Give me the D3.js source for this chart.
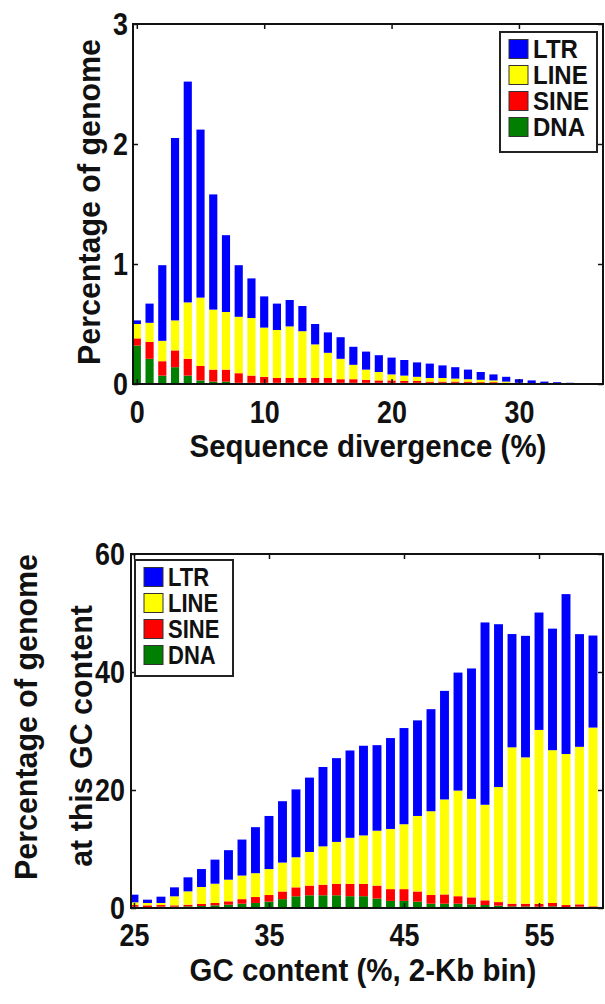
<!DOCTYPE html>
<html>
<head>
<meta charset="utf-8">
<script src="https://cdn.jsdelivr.net/npm/d3@7.9.0/dist/d3.min.js"></script>
<style>
  html, body { margin: 0; padding: 0; background: #fff; }
  svg { display: block; }
  text { font-family: "Liberation Sans", Arial, sans-serif; font-weight: bold; fill: #111; }
</style>
</head>
<body>
<svg id="chart" width="605" height="1004"></svg>
<script>
// repeat families, stacked bottom -> top: DNA, SINE, LINE, LTR
const families = ['LTR', 'LINE', 'SINE', 'DNA'];
const familyColors = ['#0000ff', '#ffff00', '#ff0000', '#007f00'];

// panel 1: sequence divergence (%)
const divergence = [0, 1, 2, 3, 4, 5, 6, 7, 8, 9, 10, 11, 12, 13, 14, 15, 16, 17, 18, 19, 20, 21, 22, 23, 24, 25, 26, 27, 28, 29, 30, 31, 32, 33, 34, 35];
const divLTR  = [0.03, 0.16, 0.63, 1.52, 1.84, 1.40, 0.96, 0.64, 0.43, 0.33, 0.26, 0.22, 0.22, 0.21, 0.17, 0.17, 0.18, 0.15, 0.15, 0.14, 0.14, 0.13, 0.12, 0.12, 0.105, 0.095, 0.08, 0.065, 0.05, 0.04, 0.03, 0.025, 0.02, 0.015, 0.01, 0.005];
const divLINE = [0.12, 0.16, 0.17, 0.25, 0.47, 0.57, 0.50, 0.48, 0.47, 0.48, 0.41, 0.40, 0.43, 0.39, 0.28, 0.21, 0.17, 0.12, 0.085, 0.07, 0.05, 0.045, 0.035, 0.03, 0.03, 0.025, 0.02, 0.02, 0.015, 0.01, 0.005, 0.005, 0, 0, 0, 0];
const divSINE = [0.06, 0.14, 0.12, 0.14, 0.14, 0.12, 0.10, 0.10, 0.08, 0.06, 0.05, 0.04, 0.04, 0.04, 0.04, 0.04, 0.03, 0.03, 0.025, 0.02, 0.02, 0.015, 0.015, 0.01, 0.01, 0.01, 0.01, 0.01, 0.01, 0.005, 0.005, 0, 0, 0, 0, 0];
const divDNA  = [0.32, 0.21, 0.07, 0.14, 0.07, 0.03, 0.02, 0.02, 0.01, 0.01, 0.01, 0.01, 0.01, 0.01, 0.01, 0.01, 0.01, 0.01, 0.01, 0.01, 0.01, 0.01, 0.01, 0.01, 0.01, 0.01, 0.01, 0.005, 0.005, 0.005, 0, 0, 0, 0, 0, 0];
const divTicks = [0, 10, 20, 30];
const divYTicks = [0, 1, 2, 3];

// panel 2: GC content (%, 2-Kb bin)
const gcBins = [25, 26, 27, 28, 29, 30, 31, 32, 33, 34, 35, 36, 37, 38, 39, 40, 41, 42, 43, 44, 45, 46, 47, 48, 49, 50, 51, 52, 53, 54, 55, 56, 57, 58, 59];
const gcLTR  = [1.3, 0.56, 1.07, 1.52, 2.38, 3.04, 4.08, 5.0, 6.1, 7.8, 9.0, 10.4, 11.5, 12.6, 13.45, 14.2, 14.8, 15.2, 14.5, 15.4, 16.3, 16.2, 17.3, 18.4, 20.0, 22.1, 30.9, 27.6, 19.2, 20.6, 19.9, 20.6, 27.1, 19.1, 15.6];
const gcLINE = [0.46, 0.40, 0.35, 1.53, 2.26, 2.88, 3.27, 3.67, 4.0, 4.04, 4.4, 4.9, 5.1, 5.7, 6.5, 7.1, 7.8, 8.2, 9.3, 10.2, 11.0, 12.8, 14.2, 16.1, 17.9, 16.7, 16.2, 19.5, 26.5, 24.8, 29.5, 25.9, 25.6, 26.7, 30.3];
const gcSINE = [0.27, 0.28, 0.27, 0.22, 0.28, 0.34, 0.40, 0.57, 0.77, 1.01, 1.13, 1.3, 1.52, 1.65, 1.8, 1.95, 2.1, 2.1, 2.2, 2.0, 2.0, 1.73, 1.47, 1.57, 1.27, 1.18, 0.8, 0.6, 0.45, 0.45, 0.45, 0.57, 0.33, 0.39, 0.17];
const gcDNA  = [0.23, 0.17, 0.23, 0.23, 0.28, 0.34, 0.45, 0.56, 0.73, 0.85, 1.07, 1.5, 1.98, 2.15, 2.15, 2.15, 2.0, 2.0, 1.6, 1.2, 1.2, 1.07, 0.73, 0.73, 0.73, 0.62, 0.5, 0.4, 0.28, 0.28, 0.23, 0.28, 0.17, 0.23, 0.11];
const gcTicks = [25, 35, 45, 55];
const gcYTicks = [0, 20, 40, 60];

const svg = d3.select('#chart');

function squeeze(sel, k) {
  sel.each(function () {
    const w = this.getComputedTextLength();
    d3.select(this).attr('textLength', w * k).attr('lengthAdjust', 'spacingAndGlyphs');
  });
}

function drawPanel(p) {
  const rows = p.cats.map((c, i) => ({
    cat: c, LTR: p.ltr[i], LINE: p.line[i], SINE: p.sine[i], DNA: p.dna[i]
  }));
  const stack = d3.stack().keys(['DNA', 'SINE', 'LINE', 'LTR'])(rows);

  const x = d3.scaleLinear().domain(p.xDomain).range([p.left, p.right]);
  const y = d3.scaleLinear().domain(p.yDomain).range([p.bottom, p.top]);
  const bw = x(p.xDomain[0] + p.barWidth) - x(p.xDomain[0]);
  const colorOf = d3.scaleOrdinal().domain(families).range(familyColors);

  const g = svg.append('g');
  const clipId = 'clip-' + p.name;
  g.append('clipPath').attr('id', clipId)
    .append('rect')
    .attr('x', p.left).attr('y', p.top)
    .attr('width', p.right - p.left).attr('height', p.bottom - p.top);

  const bars = g.append('g').attr('clip-path', `url(#${clipId})`);
  bars.selectAll('g.layer')
    .data(stack)
    .join('g')
    .attr('class', 'layer')
    .attr('fill', (d) => colorOf(d.key))
    .selectAll('rect')
    .data((d) => d)
    .join('rect')
    .attr('x', (d) => x(d.data.cat) - bw / 2)
    .attr('width', bw)
    .attr('y', (d) => y(d[1]))
    .attr('height', (d) => Math.max(0, y(d[0]) - y(d[1])));

  // box with inward ticks on all four sides (matlab look)
  const axStyle = (a) => {
    a.select('.domain').remove();
    a.selectAll('line').attr('stroke', '#111').attr('stroke-width', 1.5);
  };
  const fmt = d3.format('d');
  const bottomAx = g.append('g').attr('transform', `translate(0,${p.bottom})`)
    .call(d3.axisBottom(x).tickValues(p.xTicks).tickFormat(fmt).tickSizeInner(-5).tickSizeOuter(0).tickPadding(p.xPad))
    .call(axStyle);
  g.append('g').attr('transform', `translate(0,${p.top})`)
    .call(d3.axisTop(x).tickValues(p.xTicks).tickSizeInner(-5).tickSizeOuter(0).tickFormat(''))
    .call(axStyle);
  const leftAx = g.append('g').attr('transform', `translate(${p.left},0)`)
    .call(d3.axisLeft(y).tickValues(p.yTicks).tickFormat(fmt).tickSizeInner(-5).tickSizeOuter(0).tickPadding(p.yPad))
    .call(axStyle);
  g.append('g').attr('transform', `translate(${p.right},0)`)
    .call(d3.axisRight(y).tickValues(p.yTicks).tickSizeInner(-5).tickSizeOuter(0).tickFormat(''))
    .call(axStyle);

  g.append('rect')
    .attr('x', p.left).attr('y', p.top)
    .attr('width', p.right - p.left).attr('height', p.bottom - p.top)
    .attr('fill', 'none').attr('stroke', '#111').attr('stroke-width', 2);

  [bottomAx, leftAx].forEach((a) => {
    a.selectAll('text')
      .attr('fill', '#111')
      .style('font-family', '"Liberation Sans", Arial, sans-serif')
      .style('font-weight', 'bold')
      .style('font-size', '32px');
    squeeze(a.selectAll('text'), 0.84);
  });

  // x title
  const xt = g.append('text')
    .attr('x', p.xTitleX).attr('y', p.xTitleY)
    .attr('text-anchor', 'middle')
    .style('font-size', '31px')
    .text(p.xTitle);
  squeeze(xt, 0.95);

  // y title (one or two lines)
  p.yTitle.forEach((line, i) => {
    const t = g.append('text')
      .attr('transform', `translate(${p.yTitleX[i]},${p.yTitleY[i]}) rotate(-90)`)
      .attr('text-anchor', 'middle')
      .style('font-size', '31px')
      .text(line);
    squeeze(t, 0.98);
  });

  // legend
  const lg = g.append('g').attr('transform', `translate(${p.legend.x},${p.legend.y})`);
  lg.append('rect')
    .attr('width', p.legend.w).attr('height', p.legend.h)
    .attr('fill', '#fff').attr('stroke', '#222').attr('stroke-width', 2);
  families.forEach((f, i) => {
    const ry = 17 + i * 26;
    lg.append('rect')
      .attr('x', 9).attr('y', ry - 9.5)
      .attr('width', 19).attr('height', 19)
      .attr('fill', familyColors[i])
      .attr('stroke', '#333').attr('stroke-width', 1);
    const t = lg.append('text')
      .attr('x', 33).attr('y', ry + 9)
      .style('font-size', '25px')
      .text(f);
    squeeze(t, p.legend.k);
  });
}

drawPanel({
  name: 'div',
  cats: divergence, ltr: divLTR, line: divLINE, sine: divSINE, dna: divDNA,
  xDomain: [-0.3, 36.6], yDomain: [0, 3],
  xTicks: divTicks, yTicks: divYTicks,
  left: 133, right: 603, top: 24, bottom: 384,
  barWidth: 0.64, xPad: 16, yPad: 5,
  xTitle: 'Sequence divergence (%)', xTitleX: 368, xTitleY: 457,
  yTitle: ['Percentage of genome'], yTitleX: [100], yTitleY: [202],
  legend: { x: 500, y: 32, w: 97, h: 120, k: 0.96 }
});

drawPanel({
  name: 'gc',
  cats: gcBins, ltr: gcLTR, line: gcLINE, sine: gcSINE, dna: gcDNA,
  xDomain: [24.78, 59.74], yDomain: [0, 60],
  xTicks: gcTicks, yTicks: gcYTicks,
  left: 131, right: 603, top: 554, bottom: 908,
  barWidth: 0.66, xPad: 15, yPad: 6,
  xTitle: 'GC content (%, 2-Kb bin)', xTitleX: 363, xTitleY: 981,
  yTitle: ['Percentage of genome', 'at this GC content'], yTitleX: [37, 92], yTitleY: [717, 736],
  legend: { x: 135, y: 560, w: 98, h: 116, k: 0.88 }
});
</script>
</body>
</html>
